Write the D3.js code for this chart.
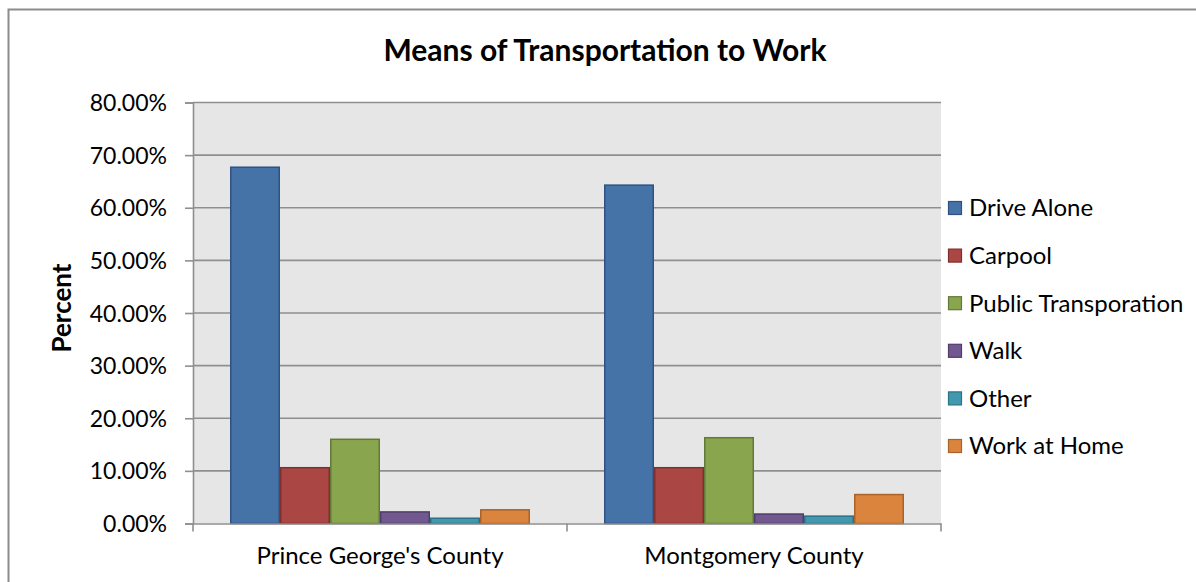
<!DOCTYPE html>
<meta charset="utf-8">
<script src="https://d3js.org/d3.v7.min.js"></script>
<style>
  body { margin: 0; background: #fff; }
  text { font-family: Lato, "Open Sans", sans-serif; fill: #000; }
</style>
<body>
<div id="chart"></div>
<script>
  // data
  const counties = ["Prince George's County", "Montgomery County"];
  const modes = ["Drive Alone", "Carpool", "Public Transporation", "Walk", "Other", "Work at Home"];
  const princeGeorges = [0.677, 0.106, 0.160, 0.022, 0.010, 0.026];
  const montgomery = [0.643, 0.106, 0.163, 0.018, 0.014, 0.055];
  const yTicks = [0, 0.1, 0.2, 0.3, 0.4, 0.5, 0.6, 0.7, 0.8];

  const fills = ["#4572a7", "#aa4643", "#89a54e", "#71588f", "#4198af", "#db843d"];
  const strokes = ["#2f5282", "#7f2f2d", "#63793a", "#503e6a", "#2d7184", "#a9622a"];

  const rows = counties.map((c, i) => ({county: c, values: [princeGeorges, montgomery][i]}));

  const width = 1196, height = 582;
  const plot = {left: 193, right: 941, top: 102.5, bottom: 523.5};

  const svg = d3.select("#chart").append("svg")
      .attr("width", width)
      .attr("height", height);

  // chart area border (runs off the right and bottom edges)
  svg.append("rect")
      .attr("x", 8.5).attr("y", 9.5)
      .attr("width", 1300).attr("height", 700)
      .attr("fill", "#fff")
      .attr("stroke", "#8c8c8c")
      .attr("stroke-width", 2);

  const x0 = d3.scaleBand()
      .domain(counties)
      .range([plot.left, plot.right]);
  const x1 = d3.scaleBand()
      .domain(modes)
      .range([0, x0.bandwidth()])
      .paddingOuter(0.74)
      .paddingInner(0);
  const y = d3.scaleLinear()
      .domain([0, 0.8])
      .range([plot.bottom, plot.top]);

  // plot area
  svg.append("rect")
      .attr("x", plot.left).attr("y", plot.top)
      .attr("width", plot.right - plot.left)
      .attr("height", plot.bottom - plot.top)
      .attr("fill", "#e6e6e6");

  // gridlines
  svg.append("g")
    .selectAll("line")
    .data(yTicks.slice(1))
    .join("line")
      .attr("x1", plot.left).attr("x2", plot.right)
      .attr("y1", d => y(d)).attr("y2", d => y(d))
      .attr("stroke", "#8f8f8f")
      .attr("stroke-width", 1.6);

  // y axis
  const yAxis = svg.append("g")
      .attr("transform", `translate(${plot.left},0)`)
      .call(d3.axisLeft(y).tickValues(yTicks).tickFormat(d3.format(".2%")).tickSize(8).tickPadding(18));
  yAxis.select(".domain").attr("stroke", "#8f8f8f").attr("stroke-width", 1.6);
  yAxis.selectAll(".tick line").attr("stroke", "#8f8f8f").attr("stroke-width", 1.6);
  yAxis.selectAll("text").style("font-size", "23px").attr("dy", "0.35em");

  // bars
  svg.append("g")
    .selectAll("g")
    .data(rows)
    .join("g")
      .attr("transform", d => `translate(${x0(d.county)},0)`)
    .selectAll("rect")
    .data(d => d.values.map((v, i) => ({mode: modes[i], value: v, i: i})))
    .join("rect")
      .attr("x", d => x1(d.mode) + 0.75)
      .attr("y", d => y(d.value))
      .attr("width", x1.bandwidth() - 1.5)
      .attr("height", d => y(0) - y(d.value))
      .attr("fill", d => fills[d.i])
      .attr("stroke", d => strokes[d.i])
      .attr("stroke-width", 1.5);

  // x axis
  const xAxis = svg.append("g")
      .attr("transform", `translate(0,${plot.bottom})`)
      .call(d3.axisBottom(x0).tickSize(0).tickPadding(23));
  xAxis.select(".domain").attr("stroke", "#8f8f8f").attr("stroke-width", 1.6);
  xAxis.selectAll("text").style("font-size", "24px");
  svg.append("g")
    .selectAll("line")
    .data([plot.left, x0(counties[1]), plot.right])
    .join("line")
      .attr("x1", d => d).attr("x2", d => d)
      .attr("y1", plot.bottom).attr("y2", plot.bottom + 8)
      .attr("stroke", "#8f8f8f")
      .attr("stroke-width", 1.6);

  // titles
  svg.append("text")
      .attr("x", 605).attr("y", 61)
      .attr("text-anchor", "middle")
      .style("font-size", "30px")
      .style("font-weight", "bold")
      .text("Means of Transportation to Work");

  svg.append("text")
      .attr("transform", `translate(71,${(plot.top + plot.bottom) / 2 - 5}) rotate(-90)`)
      .attr("text-anchor", "middle")
      .style("font-size", "26px")
      .style("font-weight", "bold")
      .text("Percent");

  // legend
  const legend = svg.append("g")
    .selectAll("g")
    .data(modes)
    .join("g")
      .attr("transform", (d, i) => `translate(948,${208 + i * 47.6})`);
  legend.append("rect")
      .attr("x", 0.5).attr("y", -6.5)
      .attr("width", 13).attr("height", 13)
      .attr("fill", (d, i) => fills[i])
      .attr("stroke", (d, i) => strokes[i])
      .attr("stroke-width", 1.2);
  legend.append("text")
      .attr("x", 21).attr("dy", "0.35em")
      .style("font-size", "24px")
      .text(d => d);
</script>
</body>
